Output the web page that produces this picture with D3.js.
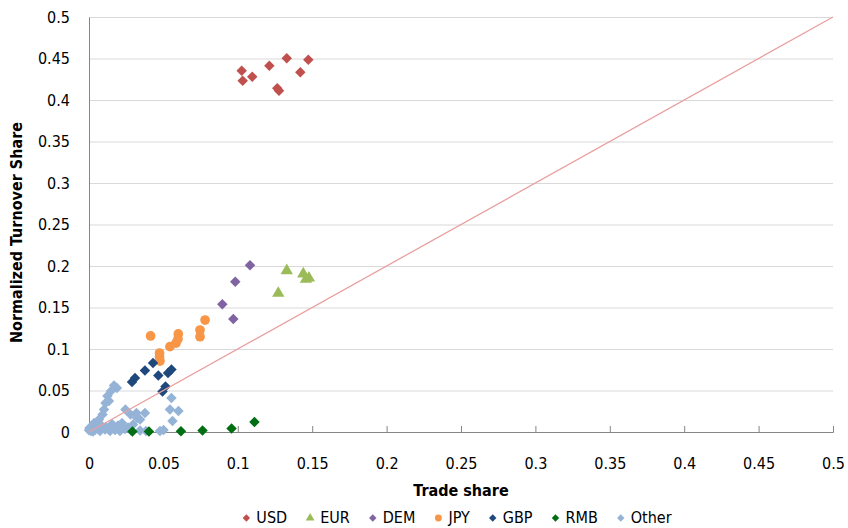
<!DOCTYPE html>
<html>
<head>
<meta charset="utf-8">
<script src="https://cdn.jsdelivr.net/npm/d3@7"></script>
<style>
  body { margin: 0; background: #fff; }
  text { font-family: "DejaVu Sans Condensed", "DejaVu Sans", sans-serif; fill: #000; }
</style>
</head>
<body>
<div id="plot"></div>
<script>
// values: [trade share, normalized turnover share]
let usd = [[0.1026,0.4353],[0.1033,0.4233],[0.1097,0.4281],[0.1212,0.4413],[0.1329,0.4502],
  [0.1474,0.4486],[0.1420,0.4334],[0.1265,0.4141],[0.1277,0.4112]];
let eur = [[0.1329,0.1943],[0.1440,0.1904],[0.1458,0.1840],[0.1478,0.1855],[0.1272,0.1671]];
let dem = [[0.1082,0.2008],[0.0983,0.1811],[0.0896,0.1538],[0.0970,0.1361]];
let jpy = [[0.0414,0.1157],[0.0474,0.0952],[0.0474,0.0904],[0.0477,0.0855],[0.0544,0.1028],
  [0.0585,0.1072],[0.0600,0.1181],[0.0598,0.1120],[0.0746,0.1229],[0.0746,0.1148],[0.0780,0.1349]];
let gbp = [[0.0289,0.0602],[0.0309,0.0651],[0.0376,0.0741],[0.0430,0.0831],[0.0466,0.0681],
  [0.0531,0.0711],[0.0554,0.0753],[0.0514,0.0548],[0.0494,0.0488]];
let rmb = [[0.0292,0.0005],[0.0403,0.0005],[0.0618,0.0008],[0.0763,0.0018],[0.0958,0.0042],[0.1112,0.0120]];
let other = [[0.0168,0.0560],[0.0188,0.0530],[0.0148,0.0494],[0.0124,0.0434],[0.0134,0.0373],
  [0.0111,0.0349],[0.0101,0.0271],[0.0091,0.0211],[0.0067,0.0151],[0.0034,0.0108],[0.0003,0.0048],
  [0.0013,0.0012],[0.0245,0.0271],[0.0279,0.0211],[0.0323,0.0169],[0.0319,0.0229],[0.0376,0.0229],
  [0.0343,0.0151],[0.0296,0.0090],[0.0554,0.0410],[0.0544,0.0271],[0.0601,0.0253],[0.0561,0.0133],
  [0.0501,0.0024],[0.0477,0.0012],[0.0040,0.0024],[0.0074,0.0012],[0.0108,0.0030],[0.0141,0.0012],
  [0.0175,0.0024],[0.0208,0.0012],[0.0242,0.0036],[0.0195,0.0078],[0.0155,0.0096],[0.0114,0.0060],
  [0.0222,0.0108],[0.0262,0.0054],[0.0343,0.0018],[0.0383,0.0012],[0.0282,0.0018],[0.0027,0.0006],
  [0.0054,0.0072],[0.0087,0.0072],[0.0000,0.0020],[0.0020,0.0040]];

let ticks = [0, 0.05, 0.1, 0.15, 0.2, 0.25, 0.3, 0.35, 0.4, 0.45, 0.5];

let series = [
  { name: 'Other', data: other, color: '#95B3D7', shape: 'diamond' },
  { name: 'USD', data: usd, color: '#C0504D', shape: 'diamond' },
  { name: 'EUR', data: eur, color: '#9BBB59', shape: 'triangle' },
  { name: 'DEM', data: dem, color: '#8064A2', shape: 'diamond' },
  { name: 'JPY', data: jpy, color: '#F79646', shape: 'circle' },
  { name: 'GBP', data: gbp, color: '#1F497D', shape: 'diamond' },
  { name: 'RMB', data: rmb, color: '#006E12', shape: 'diamond' }
];
let legendOrder = ['USD', 'EUR', 'DEM', 'JPY', 'GBP', 'RMB', 'Other'];

let width = 848, height = 528;
let margin = { top: 17, bottom: 96, left: 89, right: 15 };

let svg = d3.select('#plot')
  .append('svg')
  .attr('width', width)
  .attr('height', height);

let xScale = d3.scaleLinear()
  .domain([0, 0.5])
  .range([margin.left, width - margin.right]);

let yScale = d3.scaleLinear()
  .domain([0, 0.5])
  .range([height - margin.bottom, margin.top]);

const fmt = d => d === 0 ? '0' : String(d);

// horizontal gridlines
svg.append('g')
  .attr('transform', `translate(${margin.left},0)`)
  .call(d3.axisLeft(yScale).tickValues(ticks.slice(1)).tickSize(-(width - margin.left - margin.right)).tickFormat(''))
  .call(g => g.select('.domain').remove())
  .call(g => g.selectAll('line').attr('stroke', '#D9D9D9'));

// y axis
let yAxis = svg.append('g')
  .attr('transform', `translate(${margin.left},0)`)
  .call(d3.axisLeft(yScale).tickValues(ticks).tickSize(0).tickPadding(19).tickFormat(fmt));
yAxis.select('.domain').attr('stroke', '#868686');
yAxis.selectAll('text').style('font-size', '16px').attr('fill', '#000');

// x axis, ticks point inward
let xAxis = svg.append('g')
  .attr('transform', `translate(0,${height - margin.bottom})`)
  .call(d3.axisBottom(xScale).tickValues(ticks).tickSize(-6).tickPadding(26).tickFormat(fmt));
xAxis.select('.domain').attr('stroke', '#868686');
xAxis.selectAll('line').attr('stroke', '#868686');
xAxis.selectAll('text').style('font-size', '16px').attr('fill', '#000');

// axis titles
svg.append('text')
  .attr('x', (xScale(0) + xScale(0.5)) / 2)
  .attr('y', 496)
  .attr('text-anchor', 'middle')
  .style('font-size', '16px')
  .style('font-weight', 'bold')
  .text('Trade share');

svg.append('text')
  .attr('transform', `translate(22,${(yScale(0) + yScale(0.5)) / 2 + 8}) rotate(-90)`)
  .attr('text-anchor', 'middle')
  .style('font-size', '16px')
  .style('font-weight', 'bold')
  .text('Normalized Turnover Share');

function marker(shape, scale) {
  if (shape === 'circle') return d3.symbol().type(d3.symbolCircle).size(74 * scale)();
  if (shape === 'triangle') return d3.symbol().type(d3.symbolTriangle).size(66 * scale)();
  return d3.symbol().type(d3.symbolSquare).size(55 * scale)();
}

// points
series.forEach(s => {
  svg.append('g')
    .selectAll('path')
    .data(s.data)
    .enter()
    .append('path')
    .attr('d', marker(s.shape, 1))
    .attr('transform', d => `translate(${xScale(d[0])},${yScale(d[1])})` + (s.shape === 'diamond' ? ' rotate(45)' : ''))
    .attr('fill', s.color);
});

// 45 degree line
svg.append('line')
  .attr('x1', xScale(0)).attr('y1', yScale(0))
  .attr('x2', xScale(0.5)).attr('y2', yScale(0.5))
  .attr('stroke', '#E9A09F')
  .attr('stroke-width', 1.3);

// legend
let legend = svg.append('g');
let lx = 0;
legendOrder.forEach(name => {
  let s = series.find(d => d.name === name);
  let item = legend.append('g').attr('transform', `translate(${lx},0)`);
  item.append('path')
    .attr('d', marker(s.shape, 0.5))
    .attr('transform', 'translate(0,-5)' + (s.shape === 'diamond' ? ' rotate(45)' : ''))
    .attr('fill', s.color);
  let t = item.append('text')
    .attr('x', 10)
    .attr('y', 0)
    .style('font-size', '16px')
    .attr('fill', '#000')
    .text(name);
  lx += 10 + t.node().getComputedTextLength() + 23;
});
legend.attr('transform', `translate(${455 - (lx - 23) / 2 + 4},523)`);
</script>
</body>
</html>
